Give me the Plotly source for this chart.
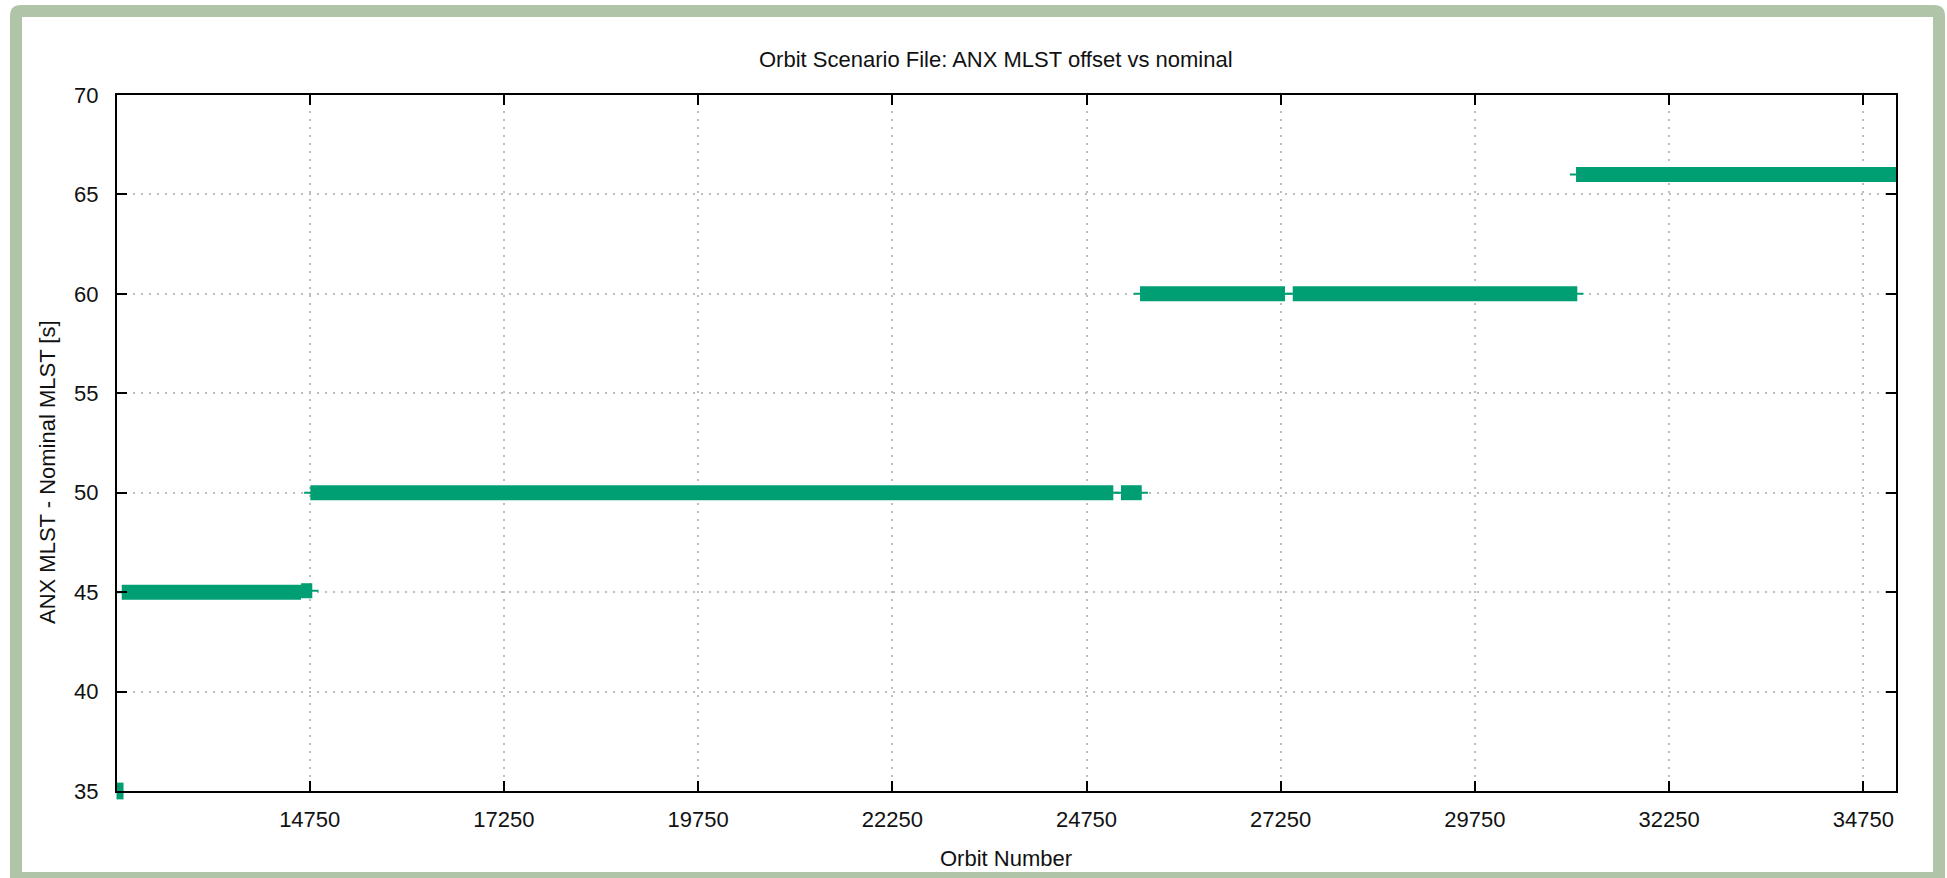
import plotly.graph_objects as go

# ---- data ----
seg_start = [12330, 14638, 14758, 25194, 25439, 27405, 31052]
seg_end = [14638, 14783, 25095, 25461, 27305, 31068, 35171]
seg_value = [45, 45.07, 50, 50, 60, 60, 66]
point_orbit = [12308]
point_value = [35]
x_ticks = [14750, 17250, 19750, 22250, 24750, 27250, 29750, 32250, 34750]
y_ticks = [35, 40, 45, 50, 55, 60, 65, 70]
x_range = [12269, 35171]
y_range = [35, 70]

title_text = "Orbit Scenario File: ANX MLST offset vs nominal"
x_title = "Orbit Number"
y_title = "ANX MLST - Nominal MLST [s]"

# ---- style ----
GREEN = "#009e73"
FONT = "Liberation Sans, Arial, Helvetica, sans-serif"
W, H = 1947, 878
ML, MR, MT, MB = 117, 51, 95, 87
PW, PH = W - ML - MR, H - MT - MB
TAIL = 80  # thin stub beyond each run (orbits)


def px(x):
    return (x - ML) / PW


def py(y):
    return (H - MB - y) / PH


fig = go.Figure()

# thin lines (slightly longer than the thick runs)
tx, ty = [], []
for s, e, v in zip(seg_start, seg_end, seg_value):
    tx += [s - TAIL, e + TAIL, None]
    ty += [v, v, None]
fig.add_trace(go.Scatter(x=tx, y=ty, mode="lines",
                         line=dict(color=GREEN, width=2),
                         hoverinfo="skip", showlegend=False))

# thick runs
kx, ky = [], []
for s, e, v in zip(seg_start, seg_end, seg_value):
    kx += [s, e, None]
    ky += [v, v, None]
fig.add_trace(go.Scatter(x=kx, y=ky, mode="lines",
                         line=dict(color=GREEN, width=15),
                         showlegend=False))

# single point at the start
fig.add_trace(go.Scatter(x=point_orbit, y=point_value, mode="markers",
                         marker=dict(symbol="line-ns", size=12,
                                     line=dict(color=GREEN, width=7)),
                         cliponaxis=False, showlegend=False))

axis_common = dict(
    showline=True, linecolor="black", linewidth=2, mirror="ticks",
    ticks="inside", ticklen=10, tickwidth=1.5, tickcolor="black",
    showgrid=True, gridcolor="#bdbdbd", gridwidth=1.5, griddash="1.5px,6.5px",
    zeroline=False,
    tickfont=dict(family=FONT, size=22, color="#111111"),
)

fig.update_xaxes(range=x_range, tickmode="array", tickvals=x_ticks,
                 ticktext=[str(t) for t in x_ticks], ticklabelstandoff=8,
                 **axis_common)
fig.update_yaxes(range=y_range, tickmode="array", tickvals=y_ticks,
                 ticktext=[str(t) for t in y_ticks], ticklabelstandoff=12,
                 **axis_common)

# frame with rounded top corners
r = 11
L, T, R, B = 10, 5, 1945, 905
path = (f"M {px(L)},{py(T + r)} Q {px(L)},{py(T)} {px(L + r)},{py(T)} "
        f"L {px(R - r)},{py(T)} Q {px(R)},{py(T)} {px(R)},{py(T + r)} "
        f"L {px(R)},{py(B)} L {px(L)},{py(B)} Z")
shapes = [
    dict(type="path", path=path, xref="paper", yref="paper",
         fillcolor="#b0c4a8", line=dict(width=0), layer="below"),
    dict(type="rect", xref="paper", yref="paper",
         x0=px(22), x1=px(1933), y0=py(17), y1=py(872),
         fillcolor="white", line=dict(width=0), layer="below"),
]

annotations = [
    dict(text=title_text, xref="paper", yref="paper", x=px(996), y=py(60),
         xanchor="center", yanchor="middle", showarrow=False,
         font=dict(family=FONT, size=22, color="#111111")),
    dict(text=x_title, xref="paper", yref="paper", x=px(1006), y=py(858),
         xanchor="center", yanchor="middle", showarrow=False,
         font=dict(family=FONT, size=22, color="#111111")),
    dict(text=y_title, xref="paper", yref="paper", x=px(47), y=py(472),
         xanchor="center", yanchor="middle", showarrow=False, textangle=-90,
         font=dict(family=FONT, size=22, color="#111111")),
]

fig.update_layout(
    width=W, height=H,
    margin=dict(l=ML, r=MR, t=MT, b=MB),
    paper_bgcolor="white", plot_bgcolor="rgba(0,0,0,0)",
    shapes=shapes, annotations=annotations,
    showlegend=False,
)

fig.write_html(
    "out.html",
    config={"displayModeBar": False},
    post_script="document.body.style.margin='0';"
                "document.body.style.overflow='hidden';",
)
